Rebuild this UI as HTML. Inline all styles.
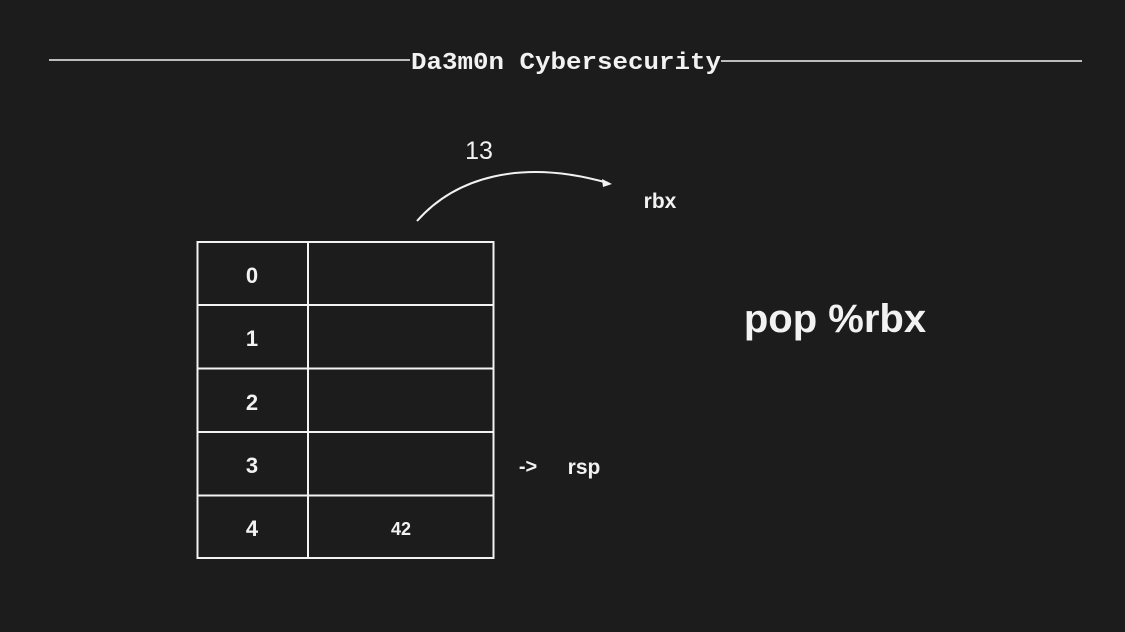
<!DOCTYPE html>
<html><head><style>
body{margin:0;background:#1c1c1c;}
svg{display:block}
</style></head><body>
<svg width="1125" height="632" viewBox="0 0 1125 632" xmlns="http://www.w3.org/2000/svg">
<rect width="1125" height="632" fill="#1c1c1c"/>
<g stroke="#f2f2f2" stroke-width="1.5" fill="none">
<line x1="49" y1="60" x2="410" y2="60"/>
<line x1="721" y1="61" x2="1082" y2="61"/>
<rect x="197.5" y="242" width="296" height="316" stroke-width="2"/>
<line x1="308" y1="242" x2="308" y2="558" stroke-width="2"/>
<line x1="197" y1="305" x2="494" y2="305" stroke-width="2"/>
<line x1="197" y1="368.5" x2="494" y2="368.5" stroke-width="2"/>
<line x1="197" y1="432" x2="494" y2="432" stroke-width="2"/>
<line x1="197" y1="495.5" x2="494" y2="495.5" stroke-width="2"/>
<path d="M417 221 C455 178 520 158 608 183" stroke-width="2"/>
</g>
<polygon points="612,184 602,179 603,187" fill="#f2f2f2"/>
<g fill="#f2f2f2" font-family="Liberation Mono, monospace" font-weight="bold" text-anchor="middle">
<text x="566" y="69" font-size="24" textLength="310" lengthAdjust="spacingAndGlyphs">Da3m0n Cybersecurity</text>
</g>
<g fill="#f2f2f2" font-family="Liberation Sans, sans-serif" font-weight="bold" text-anchor="middle" font-size="22">
<text x="252" y="283">0</text>
<text x="252" y="346">1</text>
<text x="252" y="410">2</text>
<text x="252" y="473">3</text>
<text x="252" y="536">4</text>
<text x="401" y="535" font-size="18">42</text>
<text x="528" y="473" font-size="20">-&gt;</text>
<text x="584" y="474" font-size="21">rsp</text>
<text x="660" y="208" font-size="21">rbx</text>
<text x="835" y="332" font-size="40">pop %rbx</text>
</g>
<text x="479" y="159" fill="#f2f2f2" font-family="Liberation Sans, sans-serif" font-size="25" text-anchor="middle">13</text>
</svg>
</body></html>
